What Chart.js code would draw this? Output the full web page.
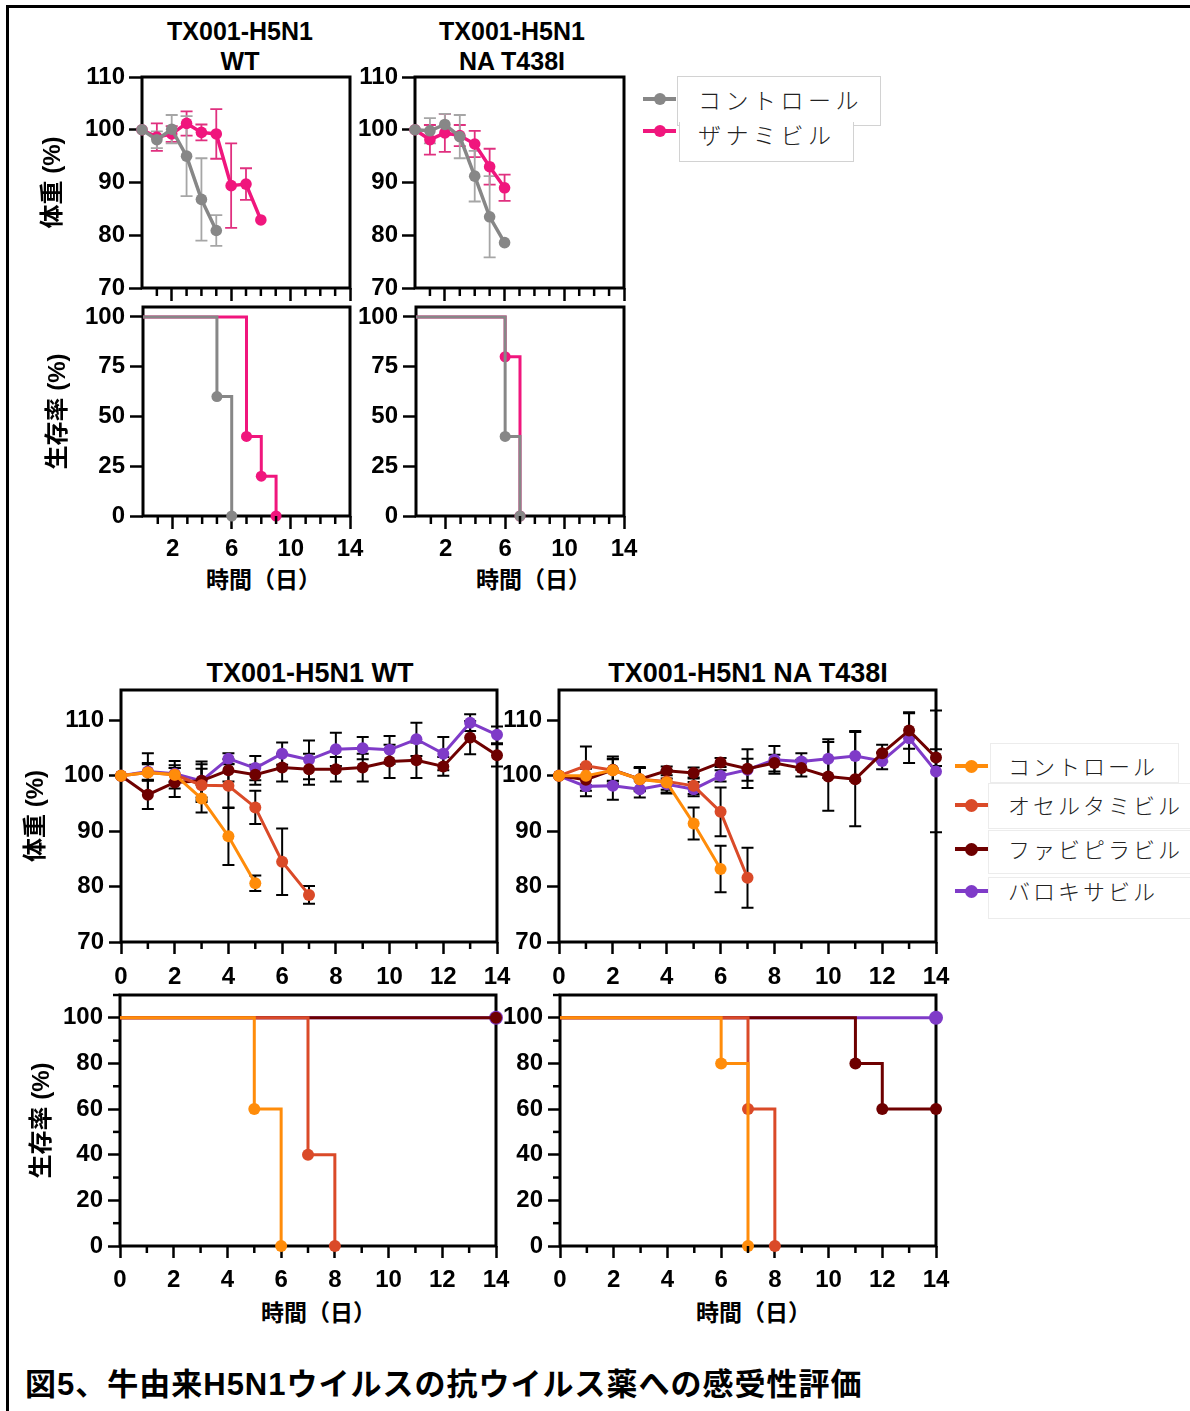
<!DOCTYPE html>
<html lang="ja">
<head>
<meta charset="utf-8">
<script src="https://cdn.jsdelivr.net/npm/chart.js@4.4.1/dist/chart.umd.min.js"></script>
<style>
  body { margin: 0; background: #fff; }
  #fig { position: relative; width: 1190px; height: 1411px; overflow: hidden;
         font-family: 'Liberation Sans', 'Noto Sans CJK JP', sans-serif; }
  .outer { position: absolute; left: 6px; top: 5px; width: 1300px; height: 1500px;
           border-left: 3px solid #000; border-top: 3px solid #000; }
  canvas { position: absolute; }
  .ttl { position: absolute; font-weight: bold; text-align: center; color: #000;
         white-space: nowrap; transform: translateX(-50%); }
  .xt { position: absolute; font-family: 'Noto Sans CJK JP', sans-serif; font-weight: bold;
        font-size: 23px; line-height: 30px; white-space: nowrap; color: #000; }
  .box { position: absolute; background: #fff; }
  .lgt { position: absolute; font-family: 'Noto Sans CJK JP', sans-serif; font-weight: 300;
         color: #222; white-space: nowrap; }
  .lgl { position: absolute; height: 4px; width: 33px; }
  .lgd { position: absolute; border-radius: 50%; }
  .cap { position: absolute; left: 25px; top: 1366px; font-size: 31px; font-weight: bold;
         letter-spacing: 1px; line-height: 38px; white-space: nowrap; color: #000; }
</style>
</head>
<body>
<div id="fig">
  <div class="outer"></div>

  <div class="ttl" style="left:240px; top:16px; font-size:25px; line-height:30px;">TX001-H5N1<br>WT</div>
  <div class="ttl" style="left:512px; top:16px; font-size:25px; line-height:30px;">TX001-H5N1<br>NA T438I</div>
  <div class="ttl" style="left:310px; top:657px; font-size:27px; line-height:32px;">TX001-H5N1 WT</div>
  <div class="ttl" style="left:748px; top:657px; font-size:27px; line-height:32px;">TX001-H5N1 NA T438I</div>

  <div class="xt" style="left:206px; top:563px;">時間（日）</div>
  <div class="xt" style="left:476px; top:563px;">時間（日）</div>
  <div class="xt" style="left:261px; top:1296px;">時間（日）</div>
  <div class="xt" style="left:696px; top:1296px;">時間（日）</div>

  <div id="legendTop"></div>
  <div id="legendBottom"></div>

  <div class="cap">図5、牛由来H5N1ウイルスの抗ウイルス薬への感受性評価</div>
</div>

<script>
// ---- tick values ----
const topDayTicks = [2, 6, 10, 14];
const topDayMinor = [1, 3, 4, 5, 7, 8, 9, 11, 12, 13];
const dayTicks = [0, 2, 4, 6, 8, 10, 12, 14];
const dayMinor = [1, 3, 5, 7, 9, 11, 13];
const weightTicks = [70, 80, 90, 100, 110];
const topSurvTicks = [0, 25, 50, 75, 100];
const survTicks = [0, 20, 40, 60, 80, 100];
const survMinor = [10, 30, 50, 70, 90, 110];

// ---- top row: weight (%) ----
const topDays = [0, 1, 2, 3, 4, 5, 6, 7, 8];
const wtCtrlWeight = [100, 98.1, 100.1, 95.0, 86.8, 80.9];
const wtCtrlErr    = [0, 1.6, 2.7, 7.6, 7.8, 2.9];
const wtZanaWeight = [100, 98.6, 99.2, 101.2, 99.5, 99.2, 89.4, 89.7, 82.9];
const wtZanaErr    = [0, 2.6, 1.5, 2.3, 1.5, 4.7, 8.0, 3.0, 0];
const naCtrlWeight = [100, 99.8, 101.0, 98.7, 91.2, 83.5, 78.6];
const naCtrlErr    = [0, 2.4, 2.0, 4.1, 4.8, 7.7, 0];
const naZanaWeight = [100, 98.1, 99.4, 98.9, 97.3, 93.0, 89.0];
const naZanaErr    = [0, 2.8, 3.6, 2.0, 2.5, 3.4, 2.5];

// ---- top row: survival (%) ----
const wtCtrlSurvDays = [0, 5, 6];
const wtCtrlSurv     = [100, 60, 0];
const wtZanaSurvDays = [0, 7, 8, 9];
const wtZanaSurv     = [100, 40, 20, 0];
const naCtrlSurvDays = [0, 6, 7];
const naCtrlSurv     = [100, 40, 0];
const naZanaSurvDays = [0, 6, 7];
const naZanaSurv     = [100, 80, 0];

// ---- bottom row: weight (%) ----
const allDays = [0, 1, 2, 3, 4, 5, 6, 7, 8, 9, 10, 11, 12, 13, 14];
const bwCtrl    = [100, 100.6, 100.2, 95.9, 89.1, 80.6];
const bwCtrlErr = [0, 1.5, 1.2, 2.5, 5.2, 1.4];
const bwOsel    = [100, 100.6, 100.2, 98.3, 98.2, 94.3, 84.5, 78.5];
const bwOselErr = [0, 3.5, 2.5, 3.0, 4.0, 3.0, 6.0, 1.6];
const bwFavi    = [100, 96.6, 98.8, 99.1, 101.0, 100.2, 101.5, 101.2, 101.2, 101.5, 102.6, 102.8, 101.7, 106.9, 103.7];
const bwFaviErr = [0, 2.6, 2.6, 3.0, 2.0, 1.8, 2.5, 2.8, 2.2, 2.5, 3.0, 3.2, 1.7, 3.0, 2.0];
const bwBalo    = [100, 100.8, 100.4, 99.1, 103.1, 101.4, 104.0, 102.9, 104.8, 105.0, 104.7, 106.6, 104.0, 109.6, 107.4];
const bwBaloErr = [0, 1.5, 1.5, 3.5, 1.0, 2.2, 2.0, 3.5, 3.0, 2.0, 2.5, 3.0, 3.0, 1.5, 1.5];

const bnCtrl    = [100, 100.0, 101.0, 99.4, 98.8, 91.4, 83.2];
const bnCtrlErr = [0, 2.0, 2.0, 2.0, 2.0, 2.9, 4.2];
const bnOsel    = [100, 101.8, 101.0, 99.4, 99.0, 98.2, 93.5, 81.6];
const bnOselErr = [0, 3.5, 2.5, 2.0, 2.0, 1.5, 4.4, 5.4];
const bnFavi    = [100, 99.3, 101.1, 99.4, 100.9, 100.5, 102.4, 101.3, 102.3, 101.4, 99.9, 99.4, 104.1, 108.2, 103.3];
const bnFaviErr = [0, 2.0, 2.0, 2.2, 0.8, 1.0, 0.8, 3.5, 1.5, 1.5, 6.2, 8.5, 1.5, 3.3, 1.5];
const bnBalo    = [100, 98.1, 98.2, 97.6, 98.5, 97.6, 100.0, 101.1, 102.9, 102.6, 103.1, 103.6, 102.7, 106.8, 100.8];
const bnBaloErr = [0, 1.8, 2.5, 1.5, 1.0, 1.3, 1.0, 2.0, 2.5, 1.5, 3.5, 4.5, 1.5, 4.5, 11.0];

// ---- bottom row: survival (%) ----
const bwCtrlSurvDays = [0, 5, 6];
const bwCtrlSurv     = [100, 60, 0];
const bwOselSurvDays = [0, 7, 8];
const bwOselSurv     = [100, 40, 0];
const bwFaviSurvDays = [0, 14];
const bwFaviSurv     = [100, 100];
const bwBaloSurvDays = [0, 14];
const bwBaloSurv     = [100, 100];

const bnCtrlSurvDays = [0, 6, 7];
const bnCtrlSurv     = [100, 80, 0];
const bnOselSurvDays = [0, 7, 8];
const bnOselSurv     = [100, 60, 0];
const bnFaviSurvDays = [0, 11, 12, 14];
const bnFaviSurv     = [100, 80, 60, 60];
const bnBaloSurvDays = [0, 14];
const bnBaloSurv     = [100, 100];

const topNames = ['コントロール', 'ザナミビル'];
const bottomNames = ['コントロール', 'オセルタミビル', 'ファビピラビル', 'バロキサビル'];

// colours
const GRAY = '#878787', GRAY_ERR = '#a6a6a6';
const PINK = '#f0167d', PINK_ERR = '#e0307f';
const ORANGE = '#ff8c0a', REDOR = '#da4a28', DARKRED = '#6e0000', PURPLE = '#7f3bc8';

const tickFont = { family: "'Liberation Sans', Arial, sans-serif", size: 24, weight: 'bold' };

// plugins: frame round plot area, error bars, short minor ticks
const framePlugin = {
  id: 'frame',
  beforeDatasetsDraw(chart) {
    const a = chart.chartArea, ctx = chart.ctx;
    ctx.save();
    ctx.strokeStyle = '#000';
    ctx.lineWidth = 3;
    ctx.strokeRect(a.left, a.top, a.right - a.left, a.bottom - a.top);
    ctx.restore();
  }
};

const errorBars = {
  id: 'errorBars',
  beforeDatasetsDraw(chart, args, opts) {
    const ctx = chart.ctx, ys = chart.scales.y;
    for (let i = chart.data.datasets.length - 1; i >= 0; i--) {
      const ds = chart.data.datasets[i];
      if (!ds.errors) continue;
      const meta = chart.getDatasetMeta(i);
      ctx.save();
      ctx.strokeStyle = ds.errorColor;
      ctx.lineWidth = opts.width;
      meta.data.forEach((pt, j) => {
        const e = ds.errors[j];
        if (!e) return;
        const v = ds.data[j].y;
        const y1 = ys.getPixelForValue(v + e), y2 = ys.getPixelForValue(v - e);
        ctx.beginPath();
        ctx.moveTo(pt.x, y1); ctx.lineTo(pt.x, y2);
        ctx.moveTo(pt.x - opts.cap, y1); ctx.lineTo(pt.x + opts.cap, y1);
        ctx.moveTo(pt.x - opts.cap, y2); ctx.lineTo(pt.x + opts.cap, y2);
        ctx.stroke();
      });
      ctx.restore();
    }
  }
};

const minorTicks = {
  id: 'minorTicks',
  afterDraw(chart, args, opts) {
    const ctx = chart.ctx, a = chart.chartArea;
    ctx.save();
    ctx.strokeStyle = '#000';
    ctx.lineWidth = 2.5;
    (opts.x || []).forEach(v => {
      const px = chart.scales.x.getPixelForValue(v);
      ctx.beginPath(); ctx.moveTo(px, a.bottom); ctx.lineTo(px, a.bottom + opts.len); ctx.stroke();
    });
    (opts.y || []).forEach(v => {
      const py = chart.scales.y.getPixelForValue(v);
      ctx.beginPath(); ctx.moveTo(a.left, py); ctx.lineTo(a.left - opts.len, py); ctx.stroke();
    });
    ctx.restore();
  }
};

function axis(min, max, major, size, showLabels, tl, pad, title) {
  return {
    type: 'linear', min: min, max: max,
    afterBuildTicks: s => { s.ticks = major.map(v => ({ value: v })); },
    afterFit: s => {
      if (s.isHorizontal()) s.height = size; else s.width = size;
      s.paddingLeft = 0; s.paddingRight = 0; s.paddingTop = 0; s.paddingBottom = 0;
    },
    grid: { drawOnChartArea: false, drawTicks: true, tickLength: tl, tickWidth: 2.5, tickColor: '#000' },
    border: { display: false },
    ticks: { display: showLabels, color: '#000', font: tickFont, padding: pad,
             autoSkip: false, maxRotation: 0, callback: v => String(v) },
    title: title ? {
      display: true, text: title.text, color: '#000',
      font: { family: "'Liberation Sans', 'Noto Sans CJK JP', sans-serif", size: title.size, weight: 'bold', lineHeight: 1.2 },
      padding: { top: title.pt || 0, bottom: title.pb || 0 }
    } : { display: false }
  };
}

function weightSeries(days, vals, errs, color, errColor, lw, r) {
  return {
    data: vals.map((v, i) => ({ x: days[i], y: v })),
    errors: errs, errorColor: errColor,
    borderColor: color, backgroundColor: color, borderWidth: lw,
    pointRadius: r, pointBorderWidth: 0, pointHoverRadius: r,
    tension: 0, clip: false
  };
}

function survSeries(days, vals, color, lw, r) {
  return {
    data: vals.map((v, i) => ({ x: days[i], y: v })),
    borderColor: color, backgroundColor: color, borderWidth: lw,
    pointRadius: ctx => ctx.dataIndex === 0 ? 0 : r, pointBorderWidth: 0,
    stepped: true, clip: false
  };
}

// f = plot frame in page pixels; yW / xH = room for the axes
function panel(f, yW, xH, padT, padR, xAxis, yAxis, datasets, minor, err) {
  const c = document.createElement('canvas');
  const w = yW + (f.r - f.l) + padR;
  const h = padT + (f.b - f.t) + xH;
  c.width = w; c.height = h;
  c.style.width = w + 'px'; c.style.height = h + 'px';
  c.style.left = (f.l - yW) + 'px';
  c.style.top = (f.t - padT) + 'px';
  document.getElementById('fig').appendChild(c);
  new Chart(c, {
    type: 'line',
    data: { datasets: datasets },
    options: {
      responsive: false, animation: false, devicePixelRatio: 1,
      layout: { padding: { left: 0, top: padT, right: padR, bottom: 0 } },
      scales: { x: xAxis, y: yAxis },
      plugins: { legend: { display: false }, tooltip: { enabled: false },
                 minorTicks: minor, errorBars: err }
    },
    plugins: [framePlugin, errorBars, minorTicks]
  });
}

const topErr = { width: 1.8, cap: 6 };
const botErr = { width: 2, cap: 6 };

// top-left weight
panel({ l: 142, t: 77, r: 350, b: 288 }, 112, 16, 12, 18,
  axis(0, 14, topDayTicks, 16, false, 13, 5),
  axis(70, 110, weightTicks, 112, true, 13, 4, { text: '体重 (%)', size: 24, pt: 8.6 }),
  [weightSeries(topDays, wtCtrlWeight, wtCtrlErr, GRAY, GRAY_ERR, 3.5, 5.8),
   weightSeries(topDays, wtZanaWeight, wtZanaErr, PINK, PINK_ERR, 3.5, 5.8)],
  { x: topDayMinor, len: 8 }, topErr);

// top-right weight
panel({ l: 415, t: 77, r: 624, b: 288 }, 63, 16, 12, 18,
  axis(0, 14, topDayTicks, 16, false, 13, 5),
  axis(70, 110, weightTicks, 63, true, 13, 4),
  [weightSeries(topDays, naCtrlWeight, naCtrlErr, GRAY, GRAY_ERR, 3.5, 5.8),
   weightSeries(topDays, naZanaWeight, naZanaErr, PINK, PINK_ERR, 3.5, 5.8)],
  { x: topDayMinor, len: 8 }, topErr);

// top-left survival
panel({ l: 143, t: 307, r: 350, b: 516 }, 113, 50, 10, 18,
  axis(0, 14, topDayTicks, 50, true, 13, 6),
  axis(0, 105, topSurvTicks, 113, true, 13, 5, { text: '生存率 (%)', size: 24, pt: 13.6 }),
  [survSeries(wtCtrlSurvDays, wtCtrlSurv, GRAY, 3, 5.5),
   survSeries(wtZanaSurvDays, wtZanaSurv, PINK, 3, 5.5)],
  { x: topDayMinor, len: 8 }, topErr);

// top-right survival
panel({ l: 416, t: 307, r: 624, b: 516 }, 64, 50, 10, 18,
  axis(0, 14, topDayTicks, 50, true, 13, 6),
  axis(0, 105, topSurvTicks, 64, true, 13, 5),
  [survSeries(naCtrlSurvDays, naCtrlSurv, GRAY, 3, 5.5),
   survSeries(naZanaSurvDays, naZanaSurv, PINK, 3, 5.5)],
  { x: topDayMinor, len: 8 }, topErr);

// bottom-left weight
panel({ l: 121, t: 690, r: 497, b: 942 }, 111, 50, 10, 14,
  axis(0, 14, dayTicks, 50, true, 12, 9),
  axis(70, 115.5, weightTicks, 111, true, 12, 5, { text: '体重 (%)', size: 24, pt: 11.6 }),
  [weightSeries(allDays, bwCtrl, bwCtrlErr, ORANGE, '#000', 3, 6),
   weightSeries(allDays, bwOsel, bwOselErr, REDOR, '#000', 3, 6),
   weightSeries(allDays, bwFavi, bwFaviErr, DARKRED, '#000', 3, 6),
   weightSeries(allDays, bwBalo, bwBaloErr, PURPLE, '#000', 3, 6)],
  { x: dayMinor, len: 7 }, botErr);

// bottom-right weight
panel({ l: 559, t: 690, r: 936, b: 942 }, 64, 50, 10, 14,
  axis(0, 14, dayTicks, 50, true, 12, 9),
  axis(70, 115.5, weightTicks, 64, true, 12, 5),
  [weightSeries(allDays, bnCtrl, bnCtrlErr, ORANGE, '#000', 3, 6),
   weightSeries(allDays, bnOsel, bnOselErr, REDOR, '#000', 3, 6),
   weightSeries(allDays, bnFavi, bnFaviErr, DARKRED, '#000', 3, 6),
   weightSeries(allDays, bnBalo, bnBaloErr, PURPLE, '#000', 3, 6)],
  { x: dayMinor, len: 7 }, botErr);

// bottom-left survival
panel({ l: 120, t: 995, r: 496, b: 1246 }, 110, 50, 10, 16,
  axis(0, 14, dayTicks, 50, true, 12, 8),
  axis(0, 110, survTicks, 110, true, 12, 5, { text: '生存率 (%)', size: 24, pt: 17.6 }),
  [survSeries(bwCtrlSurvDays, bwCtrlSurv, ORANGE, 3, 6),
   survSeries(bwOselSurvDays, bwOselSurv, REDOR, 3, 6),
   survSeries(bwFaviSurvDays, bwFaviSurv, DARKRED, 3, 6),
   survSeries(bwBaloSurvDays, bwBaloSurv, PURPLE, 3, 7)],
  { x: dayMinor, y: survMinor, len: 7 }, botErr);

// bottom-right survival
panel({ l: 560, t: 995, r: 936, b: 1246 }, 65, 50, 10, 16,
  axis(0, 14, dayTicks, 50, true, 12, 8),
  axis(0, 110, survTicks, 65, true, 12, 5),
  [survSeries(bnCtrlSurvDays, bnCtrlSurv, ORANGE, 3, 6),
   survSeries(bnOselSurvDays, bnOselSurv, REDOR, 3, 6),
   survSeries(bnFaviSurvDays, bnFaviSurv, DARKRED, 3, 6),
   survSeries(bnBaloSurvDays, bnBaloSurv, PURPLE, 3, 7)],
  { x: dayMinor, y: survMinor, len: 7 }, botErr);

// ---- legends (HTML) ----
function legendItem(host, x, y, color, r) {
  const l = document.createElement('div');
  l.className = 'lgl';
  l.style.left = x + 'px'; l.style.top = (y - 2) + 'px'; l.style.background = color;
  host.appendChild(l);
  const d = document.createElement('div');
  d.className = 'lgd';
  d.style.left = (x + 16.5 - r) + 'px'; d.style.top = (y - r) + 'px';
  d.style.width = d.style.height = (2 * r) + 'px'; d.style.background = color;
  host.appendChild(d);
}
function box(host, x, y, w, h, border) {
  const b = document.createElement('div');
  b.className = 'box';
  b.style.left = x + 'px'; b.style.top = y + 'px';
  b.style.width = w + 'px'; b.style.height = h + 'px';
  b.style.border = border;
  host.appendChild(b);
  return b;
}
function label(host, x, y, text, size, spacing) {
  const t = document.createElement('div');
  t.className = 'lgt';
  t.textContent = text;
  t.style.left = x + 'px'; t.style.top = (y - 20) + 'px';
  t.style.lineHeight = '40px'; t.style.fontSize = size + 'px';
  t.style.letterSpacing = spacing + 'px';
  host.appendChild(t);
}

const lt = document.getElementById('legendTop');
box(lt, 677, 76, 202, 48, '1px solid #d2d2d2');
const b2 = box(lt, 679, 122, 173, 39, '1px solid #d2d2d2');
b2.style.borderTop = 'none';
legendItem(lt, 643, 99, GRAY, 6);
legendItem(lt, 643, 131, PINK, 6);
label(lt, 698, 99, topNames[0], 23, 4.5);
label(lt, 698, 134, topNames[1], 23, 4.5);

const lb = document.getElementById('legendBottom');
box(lb, 990, 743, 187, 38, '1px solid #ececec');
box(lb, 988, 783, 220, 44, '1px solid #ececec');
box(lb, 988, 830, 220, 42, '1px solid #ececec');
box(lb, 988, 877, 220, 40, '1px solid #ececec');
const bottomColors = [ORANGE, REDOR, DARKRED, PURPLE];
const bottomRows = [766, 805, 849, 891];
bottomNames.forEach((n, i) => {
  legendItem(lb, 955, bottomRows[i], bottomColors[i], 6.5);
  label(lb, 1008, bottomRows[i] - 1, n, 22, 3);
});
</script>
</body>
</html>
